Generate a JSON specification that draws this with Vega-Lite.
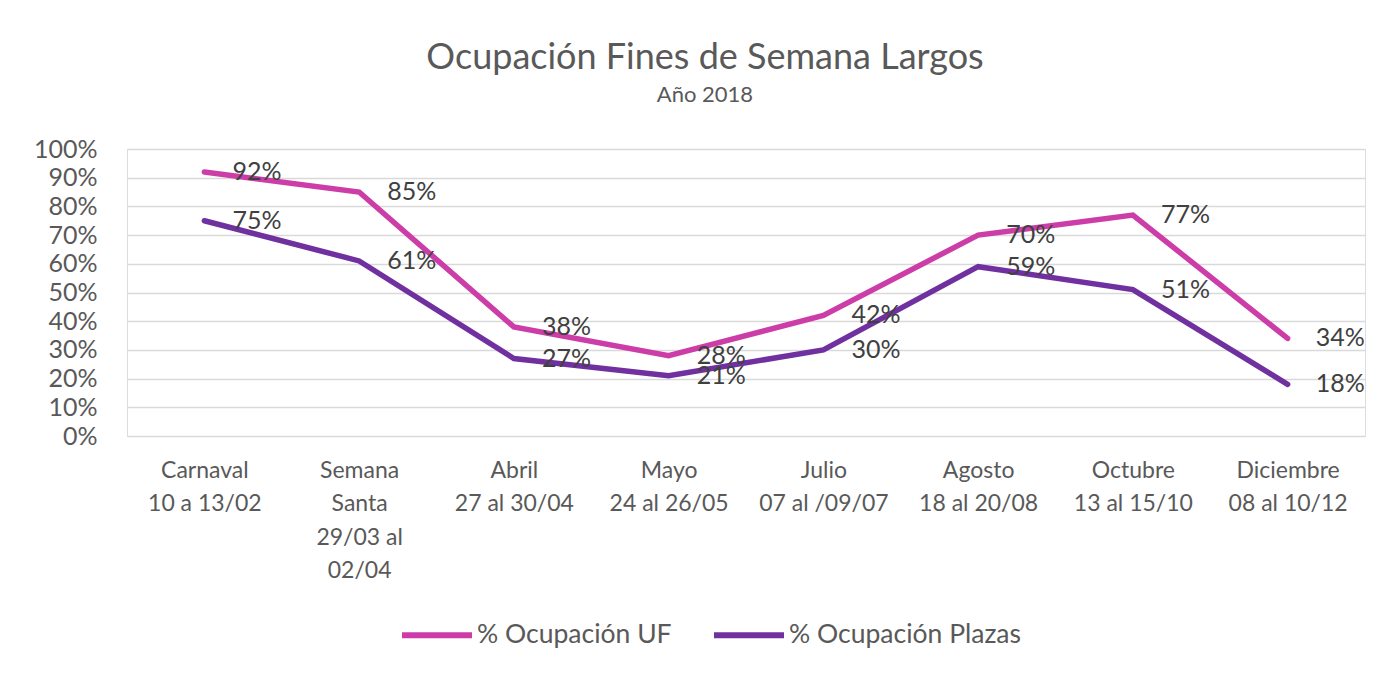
{
  "$schema": "https://vega.github.io/schema/vega-lite/v6.json",
  "autosize": {"type": "none"},
  "width": 1238,
  "height": 287,
  "padding": {"left": 127, "top": 149, "right": 20, "bottom": 238},
  "background": "white",
  "title": {
    "text": "Ocupación Fines de Semana Largos",
    "subtitle": "Año 2018",
    "anchor": "middle",
    "dx": -41,
    "offset": 30,
    "font": "Lato",
    "fontSize": 36,
    "fontWeight": "normal",
    "color": "#595959",
    "subtitleFont": "Lato",
    "subtitleFontSize": 22,
    "subtitleColor": "#595959",
    "subtitlePadding": 8
  },
  "data": {
    "values": [
      {"cat": "Carnaval|10 a 13/02", "serie": "% Ocupación UF", "value": 0.92},
      {"cat": "Semana|Santa|29/03 al|02/04", "serie": "% Ocupación UF", "value": 0.85},
      {"cat": "Abril|27 al 30/04", "serie": "% Ocupación UF", "value": 0.38},
      {"cat": "Mayo|24 al 26/05", "serie": "% Ocupación UF", "value": 0.28},
      {"cat": "Julio|07 al /09/07", "serie": "% Ocupación UF", "value": 0.42},
      {"cat": "Agosto|18 al 20/08", "serie": "% Ocupación UF", "value": 0.70},
      {"cat": "Octubre|13 al 15/10", "serie": "% Ocupación UF", "value": 0.77},
      {"cat": "Diciembre|08 al 10/12", "serie": "% Ocupación UF", "value": 0.34},
      {"cat": "Carnaval|10 a 13/02", "serie": "% Ocupación Plazas", "value": 0.75},
      {"cat": "Semana|Santa|29/03 al|02/04", "serie": "% Ocupación Plazas", "value": 0.61},
      {"cat": "Abril|27 al 30/04", "serie": "% Ocupación Plazas", "value": 0.27},
      {"cat": "Mayo|24 al 26/05", "serie": "% Ocupación Plazas", "value": 0.21},
      {"cat": "Julio|07 al /09/07", "serie": "% Ocupación Plazas", "value": 0.30},
      {"cat": "Agosto|18 al 20/08", "serie": "% Ocupación Plazas", "value": 0.59},
      {"cat": "Octubre|13 al 15/10", "serie": "% Ocupación Plazas", "value": 0.51},
      {"cat": "Diciembre|08 al 10/12", "serie": "% Ocupación Plazas", "value": 0.18}
    ]
  },
  "encoding": {
    "x": {
      "field": "cat",
      "type": "nominal",
      "sort": null,
      "scale": {"type": "point", "padding": 0.5},
      "axis": {
        "title": null,
        "labelAngle": 0,
        "labelExpr": "split(datum.label, '|')",
        "labelFont": "Lato",
        "labelFontSize": 23,
        "labelColor": "#595959",
        "labelLineHeight": 33.5,
        "labelPadding": 23,
        "labelBaseline": "top",
        "domain": false,
        "ticks": false,
        "grid": false
      }
    },
    "y": {
      "field": "value",
      "type": "quantitative",
      "scale": {"domain": [0, 1], "nice": false},
      "axis": {
        "title": null,
        "values": [0, 0.1, 0.2, 0.3, 0.4, 0.5, 0.6, 0.7, 0.8, 0.9, 1],
        "format": ".0%",
        "labelFont": "Lato",
        "labelFontSize": 25,
        "labelColor": "#595959",
        "labelPadding": 30,
        "domain": false,
        "ticks": false,
        "gridColor": "#d9d9d9",
        "gridWidth": 1.5
      }
    },
    "color": {
      "field": "serie",
      "type": "nominal",
      "scale": {
        "domain": ["% Ocupación UF", "% Ocupación Plazas"],
        "range": ["#CC3DA8", "#7030A0"]
      },
      "legend": {
        "title": null,
        "orient": "none",
        "direction": "horizontal",
        "legendX": 272,
        "legendY": 448,
        "symbolType": "stroke",
        "symbolSize": 4900,
        "symbolStrokeWidth": 6,
        "labelFont": "Lato",
        "labelFontSize": 26.5,
        "labelColor": "#595959",
        "labelOffset": 2,
        "labelLimit": 500,
        "columnPadding": 30
      }
    }
  },
  "layer": [
    {
      "mark": {"type": "line", "strokeWidth": 5.5, "strokeCap": "round", "strokeJoin": "miter"}
    },
    {
      "mark": {"type": "text", "align": "left", "baseline": "middle", "dx": 28, "font": "Lato", "fontSize": 25, "color": "#404040"},
      "encoding": {
        "text": {"field": "value", "type": "quantitative", "format": ".0%"},
        "color": {"value": "#404040"}
      }
    }
  ]
}
